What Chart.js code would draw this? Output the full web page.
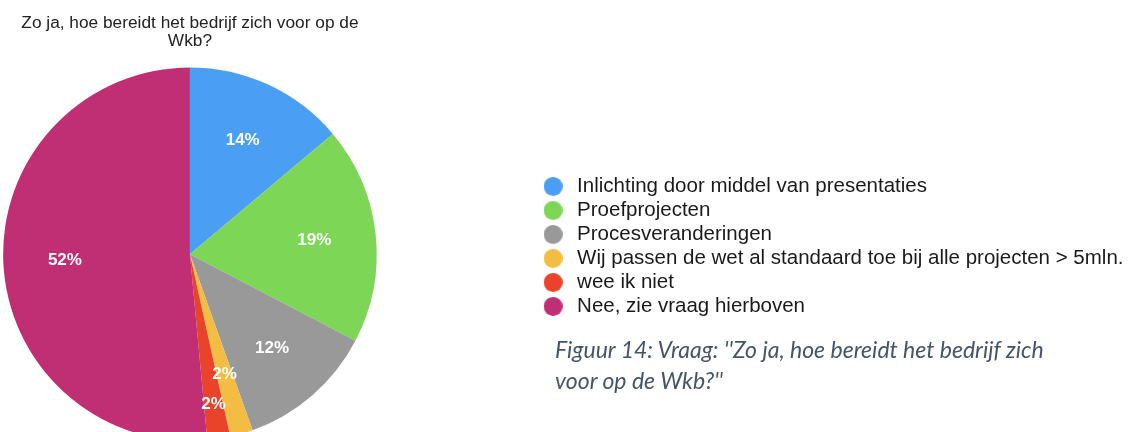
<!DOCTYPE html>
<html>
<head>
<meta charset="utf-8">
<script src="https://cdn.jsdelivr.net/npm/chart.js@4/dist/chart.umd.min.js"></script>
<style>
  html, body { margin: 0; padding: 0; background: #fff; overflow: hidden; }
  /* canvas starts left of the page so the pie sits close to the left edge */
  #wrap { position: absolute; left: -156px; top: 0; width: 1295px; height: 441px; }
  #caption {
    position: absolute; left: 555px; top: 333.6px;
    font-family: Lato, "Open Sans", sans-serif; font-style: italic;
    font-size: 23px; line-height: 31px; color: #44546a; white-space: nowrap;
  }
</style>
</head>
<body>
<div id="wrap"><canvas id="pie"></canvas></div>
<div id="caption">Figuur 14: Vraag: ''Zo ja, hoe bereidt het bedrijf zich<br>voor op de Wkb?''</div>
<script>
// answers + share in percent
let answers = [
    'Inlichting door middel van presentaties',
    'Proefprojecten',
    'Procesveranderingen',
    'Wij passen de wet al standaard toe bij alle projecten > 5mln.',
    'wee ik niet',
    'Nee, zie vraag hierboven'
];
let percents = [14, 19, 12, 2, 2, 52];
let colors = ['#4a9ff5', '#7dd655', '#999999', '#f2bd42', '#e9432a', '#c02e73'];
let titleLines = ['Zo ja, hoe bereidt het bedrijf zich voor op de', 'Wkb?'];

const FONT = '"Liberation Sans", Arial, Helvetica, sans-serif';

// round dot used as legend marker
function dot(color){
    let c = document.createElement('canvas');
    c.width = 19; c.height = 19;
    let g = c.getContext('2d');
    g.fillStyle = color;
    g.beginPath();
    g.arc(9.5, 9.5, 9.5, 0, Math.PI * 2);
    g.fill();
    return c;
}

// white percentage text inside the slices
const pctLabels = {
    id: 'pctLabels',
    afterDatasetsDraw(chart){
        const ctx = chart.ctx;
        const meta = chart.getDatasetMeta(0);
        ctx.save();
        ctx.font = 'bold 17px ' + FONT;
        ctx.fillStyle = '#ffffff';
        ctx.textAlign = 'center';
        ctx.textBaseline = 'middle';
        meta.data.forEach((arc, i) => {
            const p = arc.getProps(['x', 'y', 'startAngle', 'endAngle', 'outerRadius'], true);
            const mid = (p.startAngle + p.endAngle) / 2;
            // the second small slice is pushed outwards so it does not collide
            const r = p.outerRadius * (i === 4 ? 0.815 : 0.67);
            ctx.fillText(percents[i] + '%', p.x + Math.cos(mid) * r, p.y + Math.sin(mid) * r);
        });
        ctx.restore();
    }
};

let pie = document.getElementById('pie').getContext('2d');
let pieChart = new Chart(pie, {
    type: 'pie',
    data: {
        labels: answers,
        datasets: [{
            data: percents,
            backgroundColor: colors,
            borderWidth: 0,
            hoverOffset: 0
        }]
    },
    options: {
        responsive: true,
        maintainAspectRatio: false,
        animation: false,
        devicePixelRatio: 1,
        layout: {
            padding: {left: 0, right: 5.5, top: 0, bottom: 0}
        },
        plugins: {
            tooltip: {enabled: false},
            title: {
                display: true,
                text: titleLines,
                fullSize: false,
                color: '#222222',
                font: {family: FONT, size: 17.3, weight: 'normal', lineHeight: 1.05},
                padding: {top: 14.4, bottom: 16.7}
            },
            legend: {
                position: 'right',
                align: 'start',
                fullSize: false,
                title: {
                    display: true,
                    text: ' ',
                    font: {size: 12},
                    padding: {top: 90.85, bottom: 0}
                },
                labels: {
                    usePointStyle: true,
                    pointStyleWidth: 27.5,
                    padding: 3.5,
                    color: '#1a1a1a',
                    font: {family: FONT, size: 20.5},
                    generateLabels(chart){
                        let items = Chart.overrides.doughnut.plugins.legend.labels.generateLabels(chart);
                        items.forEach((it, i) => {
                            it.pointStyle = dot(colors[i]);
                        });
                        return items;
                    }
                }
            }
        }
    },
    plugins: [pctLabels]
});
</script>
</body>
</html>
